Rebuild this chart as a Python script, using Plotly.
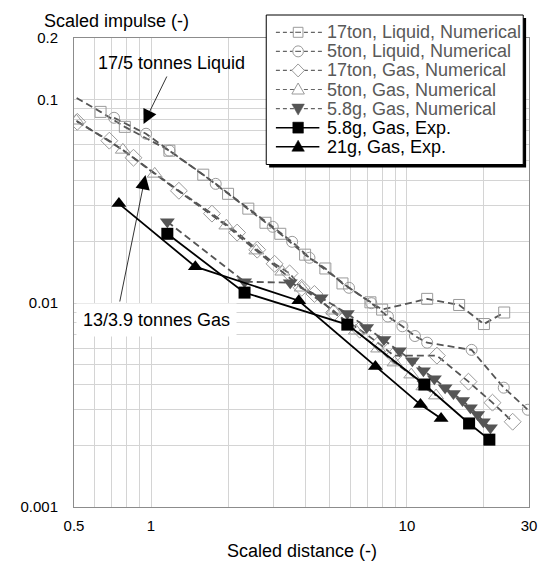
import plotly.graph_objects as go
import math

# ---------------- data ----------------
liq17_x = [0.47, 0.635, 0.79, 1.18, 1.6, 2.0, 2.4, 2.8, 3.2, 4.0, 4.8, 5.6, 7.2, 8.0, 12.0, 16.0, 20.0, 24.0]
liq17_y = [0.108, 0.0868, 0.0733, 0.0560, 0.0427, 0.0344, 0.0291, 0.0248, 0.0219, 0.0173, 0.0148, 0.0125,
           0.0101, 0.0093, 0.0105, 0.0098, 0.0079, 0.0090]

liq5_x = [0.717, 0.956, 1.18, 1.79, 2.99, 3.56, 4.16, 5.94, 7.26, 8.43, 9.6, 10.75, 12.0, 17.9, 23.9, 29.7]
liq5_y = [0.0812, 0.0678, 0.0560, 0.0385, 0.0237, 0.0200, 0.0167, 0.0119, 0.0100, 0.0086, 0.0077, 0.0069,
          0.0064, 0.0059, 0.00385, 0.0030]

gas17_x = [0.515, 0.687, 0.854, 1.285, 1.73, 2.17, 2.60, 3.04, 3.48, 3.88, 4.35, 5.18, 6.54, 7.79, 8.88,
           13.1, 17.4, 21.6, 25.9]
gas17_y = [0.0776, 0.0627, 0.0517, 0.0356, 0.0275, 0.0222, 0.0183, 0.0156, 0.0140, 0.0119, 0.0111, 0.00898,
           0.00741, 0.00633, 0.00553, 0.00553, 0.00412, 0.00325, 0.00262]

gas5_x = [0.511, 0.776, 1.034, 1.97, 2.58, 3.26, 3.88, 5.17, 6.32, 7.72, 8.95, 10.4, 11.6, 13.0]
gas5_y = [0.0785, 0.0565, 0.0431, 0.0240, 0.0181, 0.01426, 0.0119, 0.00918, 0.00732, 0.00598, 0.00511,
          0.00446, 0.00390, 0.00352]

num58_x = [1.158, 2.32, 3.50, 4.62, 5.85, 6.96, 8.13, 9.35, 10.5, 11.6, 12.8, 14.1, 15.2, 16.5, 17.7, 18.9,
           19.9, 21.2]
num58_y = [0.0251, 0.01274, 0.0126, 0.01064, 0.00889, 0.00759, 0.00663, 0.00585, 0.00522, 0.00466, 0.00426,
           0.00385, 0.00360, 0.00333, 0.00307, 0.00284, 0.00262, 0.00245]

exp58_x = [1.158, 2.32, 5.85, 11.7, 17.5, 21.0]
exp58_y = [0.0219, 0.01127, 0.00785, 0.00399, 0.00257, 0.00214]

exp21_x = [0.749, 1.49, 3.78, 7.53, 11.3, 13.6]
exp21_y = [0.0308, 0.0151, 0.01028, 0.00489, 0.00318, 0.00272]

series_names = ["17ton, Liquid, Numerical", "5ton, Liquid, Numerical", "17ton, Gas, Numerical",
                "5ton, Gas, Numerical", "5.8g, Gas, Numerical", "5.8g, Gas, Exp.", "21g, Gas, Exp."]

x_tickvals = [0.5, 0.6, 0.7, 0.8, 0.9, 1, 2, 3, 4, 5, 6, 7, 8, 9, 10, 20, 30]
x_labels = {0.5: "0.5", 1: "1", 10: "10", 30: "30"}
y_tickvals = [0.001, 0.002, 0.003, 0.004, 0.005, 0.006, 0.007, 0.008, 0.009,
              0.01, 0.02, 0.03, 0.04, 0.05, 0.06, 0.07, 0.08, 0.09, 0.1, 0.2]
y_labels = {0.001: "0.001", 0.01: "0.01", 0.1: "0.1", 0.2: "0.2"}

# ---------------- layout constants (screen pixels) ----------------
SW, SH = 549, 565      # browser window
OFF = 8                # default page body margin
W, H = SW - OFF, SH - OFF
L, R, T, B = 64, 535, 38, 507   # plot area in screen pixels
FONT = "Liberation Sans, Arial, sans-serif"
NUM_LINE = "#555555"
NUM_MARK = "#9a9a9a"
DASH = "7px,4px"


def px2p(px):
    return (px - L) / (R - L)


def py2p(py):
    return (B - py) / (B - T)


fig = go.Figure()


def add_num(x, y, name, symbol, size, color=NUM_MARK, lw=1):
    fig.add_trace(go.Scatter(
        x=x, y=y, name=name, mode="lines+markers",
        line=dict(color=NUM_LINE, width=1.8, dash=DASH),
        marker=dict(symbol=symbol, size=size, color=color, line=dict(color=color, width=lw)),
        showlegend=False))


add_num(liq17_x, liq17_y, series_names[0], "square-open", 11)
add_num(liq5_x, liq5_y, series_names[1], "circle-open", 11)
add_num(gas17_x, gas17_y, series_names[2], "diamond-open", 13)
add_num(gas5_x, gas5_y, series_names[3], "triangle-up-open", 13)
add_num(num58_x, num58_y, series_names[4], "triangle-down", 13, color="#555555", lw=0)

fig.add_trace(go.Scatter(x=exp58_x, y=exp58_y, name=series_names[5], mode="lines+markers",
                         line=dict(color="black", width=1.8),
                         marker=dict(symbol="square", size=12, color="black"), showlegend=False))
fig.add_trace(go.Scatter(x=exp21_x, y=exp21_y, name=series_names[6], mode="lines+markers",
                         line=dict(color="black", width=1.8),
                         marker=dict(symbol="triangle-up", size=13, color="black"), showlegend=False))

axis_common = dict(
    type="log", showgrid=True, gridcolor="#d4d4d4", gridwidth=1,
    showline=True, linecolor="#8c8c8c", linewidth=1, mirror=True,
    ticks="", zeroline=False,
    tickfont=dict(family=FONT, size=15, color="black"),
)

fig.update_xaxes(**axis_common, range=[math.log10(0.5), math.log10(30)],
                 tickmode="array", tickvals=x_tickvals,
                 ticktext=[x_labels.get(v, "") for v in x_tickvals], ticklabelstandoff=5)
fig.update_yaxes(**axis_common, range=[-3, math.log10(0.2)],
                 tickmode="array", tickvals=y_tickvals,
                 ticktext=[y_labels.get(v, "") for v in y_tickvals], ticklabelstandoff=12)

shapes = []
annotations = []

# ---- custom legend ----
shapes.append(dict(type="rect", xref="paper", yref="paper", layer="above",
                   x0=px2p(266), x1=px2p(532), y0=py2p(167.5), y1=py2p(18),
                   fillcolor="black", line=dict(width=0)))
shapes.append(dict(type="rect", xref="paper", yref="paper", layer="above",
                   x0=px2p(263), x1=px2p(529), y0=py2p(164.5), y1=py2p(15),
                   fillcolor="white", line=dict(color="black", width=1)))


def pth(points, close=True):
    s = "M " + " L ".join(f"{px2p(a):.5f},{py2p(b):.5f}" for a, b in points)
    return s + (" Z" if close else "")


mx = 296
for i, name in enumerate(series_names):
    yc = 32.3 + 19.07 * i
    is_exp = i >= 5
    if is_exp:
        shapes.append(dict(type="line", xref="paper", yref="paper", layer="above",
                           x0=px2p(273), x1=px2p(318), y0=py2p(yc), y1=py2p(yc),
                           line=dict(color="black", width=1.5)))
    else:
        shapes.append(dict(type="line", xref="paper", yref="paper", layer="above",
                           x0=px2p(273), x1=px2p(321), y0=py2p(yc), y1=py2p(yc),
                           line=dict(color="#666666", width=1.2, dash="4px,3px")))
    if i == 0:
        shapes.append(dict(type="path", xref="paper", yref="paper", layer="above",
                           path=pth([(mx - 5, yc - 5), (mx + 5, yc - 5), (mx + 5, yc + 5), (mx - 5, yc + 5)]),
                           fillcolor="white", line=dict(color=NUM_MARK, width=1)))
        shapes.append(dict(type="line", xref="paper", yref="paper", layer="above",
                           x0=px2p(mx - 3), x1=px2p(mx + 3), y0=py2p(yc), y1=py2p(yc),
                           line=dict(color="#666666", width=1.2)))
    elif i == 1:
        shapes.append(dict(type="circle", xref="paper", yref="paper", layer="above",
                           x0=px2p(mx - 5.5), x1=px2p(mx + 5.5), y0=py2p(yc + 5.5), y1=py2p(yc - 5.5),
                           fillcolor="white", line=dict(color=NUM_MARK, width=1)))
        shapes.append(dict(type="line", xref="paper", yref="paper", layer="above",
                           x0=px2p(mx - 3), x1=px2p(mx + 3), y0=py2p(yc), y1=py2p(yc),
                           line=dict(color="#666666", width=1.2)))
    elif i == 2:
        shapes.append(dict(type="path", xref="paper", yref="paper", layer="above",
                           path=pth([(mx, yc - 6.5), (mx + 6.5, yc), (mx, yc + 6.5), (mx - 6.5, yc)]),
                           fillcolor="white", line=dict(color=NUM_MARK, width=1)))
    elif i == 3:
        shapes.append(dict(type="path", xref="paper", yref="paper", layer="above",
                           path=pth([(mx, yc - 6.5), (mx + 6.5, yc + 4.5), (mx - 6.5, yc + 4.5)]),
                           fillcolor="white", line=dict(color=NUM_MARK, width=1)))
    elif i == 4:
        shapes.append(dict(type="path", xref="paper", yref="paper", layer="above",
                           path=pth([(mx - 6.5, yc - 4.5), (mx + 6.5, yc - 4.5), (mx, yc + 6.5)]),
                           fillcolor="#555555", line=dict(color="#555555", width=0.5)))
    elif i == 5:
        shapes.append(dict(type="path", xref="paper", yref="paper", layer="above",
                           path=pth([(mx - 5.5, yc - 5.5), (mx + 5.5, yc - 5.5), (mx + 5.5, yc + 5.5),
                                     (mx - 5.5, yc + 5.5)]),
                           fillcolor="black", line=dict(color="black", width=0.5)))
    else:
        shapes.append(dict(type="path", xref="paper", yref="paper", layer="above",
                           path=pth([(mx, yc - 6.5), (mx + 6.5, yc + 4.5), (mx - 6.5, yc + 4.5)]),
                           fillcolor="black", line=dict(color="black", width=0.5)))
    annotations.append(dict(xref="paper", yref="paper", x=px2p(324), y=py2p(yc),
                            xanchor="left", yanchor="middle", showarrow=False, text=name,
                            font=dict(family=FONT, size=18, color="black" if is_exp else "#595959")))

# ---- axis titles ----
annotations.append(dict(xref="paper", yref="paper", x=px2p(31), y=py2p(21), xanchor="left",
                        yanchor="middle", showarrow=False, text="Scaled impulse (-)",
                        font=dict(family=FONT, size=18, color="black")))
annotations.append(dict(xref="paper", yref="paper", x=px2p(299.5), y=py2p(551), xanchor="center",
                        yanchor="middle", showarrow=False, text="Scaled distance (-)",
                        font=dict(family=FONT, size=18, color="black")))


# ---- callouts ----
def xlog(px):
    return (px - L) / (R - L) * (math.log10(30) - math.log10(0.5)) + math.log10(0.5)


def ylog(py):
    return math.log10(0.2) - (py - T) / (B - T) * (math.log10(0.2) + 3)


annotations.append(dict(xref="x", yref="y", x=xlog(136), y=ylog(124), ax=24, ay=-49, text="",
                        showarrow=True, arrowhead=2, arrowsize=3.6, arrowwidth=0.8, arrowcolor="black"))
annotations.append(dict(xref="paper", yref="paper", x=px2p(165), y=py2p(63), xanchor="center",
                        yanchor="middle", showarrow=False, text="17/5 tonnes Liquid",
                        font=dict(family=FONT, size=18, color="black")))
annotations.append(dict(xref="x", yref="y", x=xlog(138), y=ylog(175), ax=-26, ay=128, text="",
                        showarrow=True, arrowhead=2, arrowsize=3.6, arrowwidth=0.8, arrowcolor="black"))
annotations.append(dict(xref="paper", yref="paper", x=px2p(149), y=py2p(320), xanchor="center",
                        yanchor="middle", showarrow=False, text="13/3.9 tonnes Gas",
                        bgcolor="white", borderpad=6,
                        font=dict(family=FONT, size=18, color="black")))

fig.update_layout(
    width=W, height=H,
    margin=dict(l=L - OFF, r=SW - R, t=T - OFF, b=SH - B, pad=0),
    paper_bgcolor="white", plot_bgcolor="white",
    showlegend=False,
    shapes=shapes, annotations=annotations,
    font=dict(family=FONT, size=15, color="black"),
)

fig.write_html("out.html")
